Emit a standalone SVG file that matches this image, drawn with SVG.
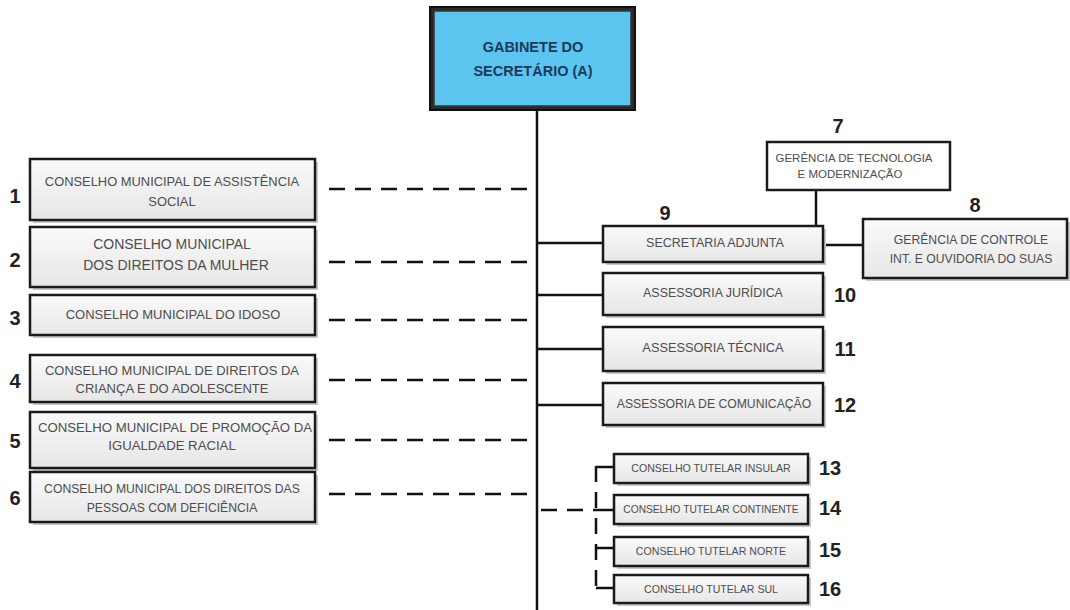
<svg xmlns="http://www.w3.org/2000/svg" width="1070" height="610" viewBox="0 0 1070 610">
<defs>
<linearGradient id="g" x1="0" y1="0" x2="0" y2="1">
<stop offset="0" stop-color="#fafafa"/>
<stop offset="1" stop-color="#e6e6e6"/>
</linearGradient>
</defs>
<style>
.box{fill:url(#g);stroke:#1a1a1a;stroke-width:2.5}
.sh{fill:#c8c8c8}
.t{font-family:"Liberation Sans",Arial,sans-serif;fill:#4d4d4d;text-anchor:middle;dominant-baseline:middle}
.n{font-family:"Liberation Sans",Arial,sans-serif;font-weight:bold;fill:#222;font-size:20px;text-anchor:middle;dominant-baseline:middle}
.ln{stroke:#111;stroke-width:2.5;fill:none}
.ds{stroke:#111;stroke-width:2.5;fill:none;stroke-dasharray:16 10}
</style>
<rect width="1070" height="610" fill="#fff"/>

<g id="connectors">
<line class="ln" x1="537" y1="110" x2="537" y2="610"/>
<line class="ds" x1="329" y1="189" x2="537" y2="189"/>
<line class="ds" x1="329" y1="262" x2="537" y2="262"/>
<line class="ds" x1="329" y1="320" x2="537" y2="320"/>
<line class="ds" x1="329" y1="380" x2="537" y2="380"/>
<line class="ds" x1="329" y1="440" x2="537" y2="440"/>
<line class="ds" x1="329" y1="494" x2="537" y2="494"/>
<line class="ln" x1="537" y1="243" x2="603" y2="243"/>
<line class="ln" x1="537" y1="295" x2="603" y2="295"/>
<line class="ln" x1="537" y1="349" x2="603" y2="349"/>
<line class="ln" x1="537" y1="405" x2="603" y2="405"/>
<line class="ln" x1="816" y1="190" x2="816" y2="226"/>
<line class="ln" x1="823" y1="245" x2="863" y2="245"/>
<line class="ds" x1="541" y1="510" x2="596" y2="510" stroke-dasharray="12 8"/>
<line class="ds" x1="596" y1="466" x2="596" y2="588" stroke-dasharray="14 8"/>
<line class="ln" x1="596" y1="467" x2="614" y2="467"/>
<line class="ln" x1="596" y1="510" x2="614" y2="510"/>
<line class="ln" x1="596" y1="548" x2="614" y2="548"/>
<line class="ln" x1="596" y1="588" x2="614" y2="588"/>
</g>

<g id="gabinete">
<rect x="430" y="7" width="205" height="103" fill="#2a2a2a" stroke="#111" stroke-width="2"/>
<rect x="434" y="11" width="197" height="95" fill="#5bc4ef" stroke="#333" stroke-width="1.5"/>
<text class="t" x="533" y="48" font-size="14.5" font-weight="bold" style="fill:#1d3a5a">GABINETE DO</text>
<text class="t" x="533" y="72" font-size="14.5" font-weight="bold" style="fill:#1d3a5a">SECRETÁRIO (A)</text>
</g>

<g id="n1">
<rect class="sh" x="33" y="162" width="285" height="61"/>
<rect class="box" x="30" y="159" width="285" height="61"/>
<text class="t" x="172" y="183" font-size="12.9">CONSELHO MUNICIPAL DE ASSISTÊNCIA</text>
<text class="t" x="172" y="203" font-size="12.9">SOCIAL</text>
<text class="n" x="15" y="198">1</text>
</g>
<g id="n2">
<rect class="sh" x="33" y="230" width="285" height="60"/>
<rect class="box" x="30" y="227" width="285" height="60"/>
<text class="t" x="172" y="245" font-size="14">CONSELHO MUNICIPAL</text>
<text class="t" x="176" y="266" font-size="14">DOS DIREITOS DA MULHER</text>
<text class="n" x="15" y="262">2</text>
</g>
<g id="n3">
<rect class="sh" x="33" y="298" width="285" height="40"/>
<rect class="box" x="30" y="295" width="285" height="40"/>
<text class="t" x="173" y="316" font-size="13">CONSELHO MUNICIPAL DO IDOSO</text>
<text class="n" x="15" y="320">3</text>
</g>
<g id="n4">
<rect class="sh" x="33" y="358" width="285" height="47"/>
<rect class="box" x="30" y="355" width="285" height="47"/>
<text class="t" x="172" y="372" font-size="13">CONSELHO MUNICIPAL DE DIREITOS DA</text>
<text class="t" x="172" y="390" font-size="13">CRIANÇA E DO ADOLESCENTE</text>
<text class="n" x="15" y="383">4</text>
</g>
<g id="n5">
<rect class="sh" x="33" y="415" width="285" height="56"/>
<rect class="box" x="30" y="412" width="285" height="56"/>
<text class="t" x="175" y="429" font-size="13.2">CONSELHO MUNICIPAL DE PROMOÇÃO DA</text>
<text class="t" x="172" y="447" font-size="13.2">IGUALDADE RACIAL</text>
<text class="n" x="15" y="443">5</text>
</g>
<g id="n6">
<rect class="sh" x="33" y="475" width="285" height="50"/>
<rect class="box" x="30" y="472" width="285" height="50"/>
<text class="t" x="172" y="490" font-size="12.2">CONSELHO MUNICIPAL DOS DIREITOS DAS</text>
<text class="t" x="172" y="509" font-size="12.2">PESSOAS COM DEFICIÊNCIA</text>
<text class="n" x="15" y="500">6</text>
</g>

<g id="n7">
<rect x="767" y="142" width="183" height="48" fill="#fff" stroke="#1a1a1a" stroke-width="2.5"/>
<text class="t" x="854" y="159" font-size="11.5">GERÊNCIA DE TECNOLOGIA</text>
<text class="t" x="850" y="175" font-size="11.5">E MODERNIZAÇÃO</text>
<text class="n" x="838" y="128">7</text>
</g>
<g id="n8">
<rect class="sh" x="866" y="222" width="204" height="59"/>
<rect class="box" x="863" y="219" width="204" height="59"/>
<text class="t" x="971" y="241" font-size="12.2">GERÊNCIA DE CONTROLE</text>
<text class="t" x="971" y="260" font-size="12.2">INT. E OUVIDORIA DO SUAS</text>
<text class="n" x="975" y="207">8</text>
</g>
<g id="n9">
<rect class="sh" x="606" y="229" width="220" height="36"/>
<rect class="box" x="603" y="226" width="220" height="36"/>
<text class="t" x="715" y="244" font-size="12.5">SECRETARIA ADJUNTA</text>
<text class="n" x="665" y="215">9</text>
</g>
<g id="n10">
<rect class="sh" x="606" y="276" width="220" height="42"/>
<rect class="box" x="603" y="273" width="220" height="42"/>
<text class="t" x="713" y="294" font-size="12.4">ASSESSORIA JURÍDICA</text>
<text class="n" x="845" y="297">10</text>
</g>
<g id="n11">
<rect class="sh" x="606" y="330" width="220" height="44"/>
<rect class="box" x="603" y="327" width="220" height="44"/>
<text class="t" x="713" y="349" font-size="12.8">ASSESSORIA TÉCNICA</text>
<text class="n" x="845" y="351">11</text>
</g>
<g id="n12">
<rect class="sh" x="606" y="386" width="220" height="42"/>
<rect class="box" x="603" y="383" width="220" height="42"/>
<text class="t" x="714" y="405" font-size="12.2">ASSESSORIA DE COMUNICAÇÃO</text>
<text class="n" x="845" y="407">12</text>
</g>
<g id="n13">
<rect class="sh" x="617" y="457" width="194" height="29"/>
<rect class="box" x="614" y="454" width="194" height="29"/>
<text class="t" x="711" y="469" font-size="10.6">CONSELHO TUTELAR INSULAR</text>
<text class="n" x="830" y="470">13</text>
</g>
<g id="n14">
<rect class="sh" x="617" y="498" width="194" height="29"/>
<rect class="box" x="614" y="495" width="194" height="29"/>
<text class="t" x="711" y="510" font-size="10.2">CONSELHO TUTELAR CONTINENTE</text>
<text class="n" x="830" y="510">14</text>
</g>
<g id="n15">
<rect class="sh" x="617" y="540" width="194" height="29"/>
<rect class="box" x="614" y="537" width="194" height="29"/>
<text class="t" x="711" y="552" font-size="10.6">CONSELHO TUTELAR NORTE</text>
<text class="n" x="830" y="552">15</text>
</g>
<g id="n16">
<rect class="sh" x="617" y="578" width="194" height="28"/>
<rect class="box" x="614" y="575" width="194" height="28"/>
<text class="t" x="711" y="590" font-size="10.6">CONSELHO TUTELAR SUL</text>
<text class="n" x="830" y="591">16</text>
</g>
</svg>
